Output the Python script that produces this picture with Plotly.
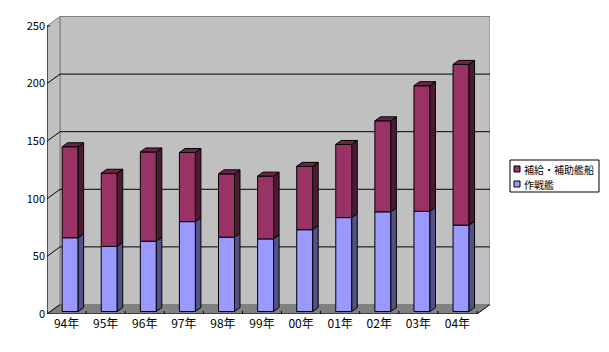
import plotly.graph_objects as go

years = ["94年","95年","96年","97年","98年","99年","00年","01年","02年","03年","04年"]
combat = [64,56.5,61,78,64.5,63,71,81.5,86.5,87,75]
support = [79,63.5,77.5,60,55,54.5,55,63.5,79,109,139.5]
ticks = [0,50,100,150,200,250]
names = ["補給・補助艦船","作戦艦"]
FONT = "Noto Sans CJK JP"

PX_X = 430/11
PX_Y = 288/250
DX = 13/PX_X; DY = 9.5/PX_Y            # chart depth
BW = 16/PX_X; SHIFT = 3.6/PX_X; B0 = 2.5/PX_Y   # bar front offset
BDX = 5.5/PX_X; BDY = 4/PX_Y        # bar depth
n = len(years)
xs = [i+SHIFT for i in range(n)]
x0, x1 = -0.5, n-0.5

shapes = []
def poly(pts, fill, line=None, w=1):
    path = "M"+"L".join(f"{a},{b}" for a,b in pts)+"Z"
    shapes.append(dict(type="path", path=path, xref="x", yref="y", layer="below", fillcolor=fill,
                       line=dict(color=line or fill, width=w if line else 0)))
def seg(a,b,c,d,color="black",w=1):
    shapes.append(dict(type="line", x0=a,y0=b,x1=c,y1=d, xref="x", yref="y", layer="below", line=dict(color=color,width=w)))

poly([(x0+DX,DY),(x1+DX,DY),(x1+DX,250+DY),(x0+DX,250+DY)],"#C0C0C0","#808080")
poly([(x0,0),(x0+DX,DY),(x0+DX,250+DY),(x0,250)],"#C0C0C0","#808080")
poly([(x0,0),(x0+DX,DY),(x1+DX,DY),(x1,0)],"#808080")
for t in ticks[1:-1]:
    seg(x0+DX,t+DY,x1+DX,t+DY)
for t in ticks[:-1]:
    seg(x0,t,x0+DX,t+DY)
seg(x1,0,x1+DX,DY)
seg(x0,0,x0,250); seg(x0,0,x1,0)
seg(x0,250,x0+3/PX_X,250)
for i in range(n+1):
    seg(x0+i,0,x0+i,3/PX_Y)

def faces(base, vals, side, top, draw_top):
    sx,sy,tx,ty=[],[],[],[]
    for x,b,v in zip(xs,base,vals):
        r=x+BW/2; l=x-BW/2; h=b+v
        sx+=[r,r+BDX,r+BDX,r,r,None]; sy+=[b,b+BDY,h+BDY,h,b,None]
        tx+=[l,l+BDX,r+BDX,r,l,None]; ty+=[h,h+BDY,h+BDY,h,h,None]
    out=[go.Scatter(x=sx,y=sy,mode="lines",fill="toself",fillcolor=side,line=dict(color="black",width=1),hoverinfo="skip",showlegend=False)]
    if draw_top:
        out.append(go.Scatter(x=tx,y=ty,mode="lines",fill="toself",fillcolor=top,line=dict(color="black",width=1),hoverinfo="skip",showlegend=False))
    return out

base1=[B0]*n
base2=[B0+c for c in combat]
fig=go.Figure()
fig.add_bar(x=xs,y=combat,base=base1,width=BW,marker=dict(color="#9999FF",line=dict(color="black",width=1)),name=names[1],showlegend=False)
fig.add_bar(x=xs,y=support,base=base2,width=BW,marker=dict(color="#993366",line=dict(color="black",width=1)),name=names[0],showlegend=False)
for t in faces(base1,combat,"#525287","#525287",False): fig.add_trace(t)
for t in faces(base2,support,"#4D1A33","#6E2549",True): fig.add_trace(t)

L,R,T,B=47,490,16,314
W,H=609,352
def px(x): return (x-L)/(R-L)
def py(y): return (B-y)/(B-T)
for (a,b,c,d,f,lw) in [(510,160,599,192,"white",1),(514,166,520,172,"#993366",1),(514,181,520,187,"#9999FF",1)]:
    shapes.append(dict(type="rect",xref="paper",yref="paper",x0=px(a),x1=px(c),y0=py(b),y1=py(d),fillcolor=f,line=dict(color="black",width=lw)))
ann=[dict(xref="paper",yref="paper",x=px(522),y=py(169),text=names[0],showarrow=False,xanchor="left",yanchor="middle",font=dict(family=FONT,size=10,color="black")),
     dict(xref="paper",yref="paper",x=px(522),y=py(184),text=names[1],showarrow=False,xanchor="left",yanchor="middle",font=dict(family=FONT,size=10,color="black"))]

fig.update_layout(width=W,height=H,margin=dict(l=L,r=W-R,t=T,b=H-B,pad=0),paper_bgcolor="white",plot_bgcolor="rgba(0,0,0,0)",
    barmode="overlay",showlegend=False,shapes=shapes,annotations=ann,font=dict(family=FONT,size=11,color="black"),
    xaxis=dict(range=[x0,x0+(R-L)/PX_X],tickmode="array",tickvals=list(range(n)),ticktext=years,automargin=False,ticklabelstandoff=1,
               showgrid=False,zeroline=False,showline=False,ticks="",ticklen=0,tickfont=dict(family=FONT,size=12)),
    yaxis=dict(range=[0,(B-T)/PX_Y],tickmode="array",tickvals=ticks,automargin=False,ticklabelstandoff=1,
               showgrid=False,zeroline=False,showline=False,ticks="",tickfont=dict(family=FONT,size=11)))
fig.write_html("out.html",config=dict(displayModeBar=False),post_script="document.body.style.margin='0';document.body.style.overflow='hidden';")
